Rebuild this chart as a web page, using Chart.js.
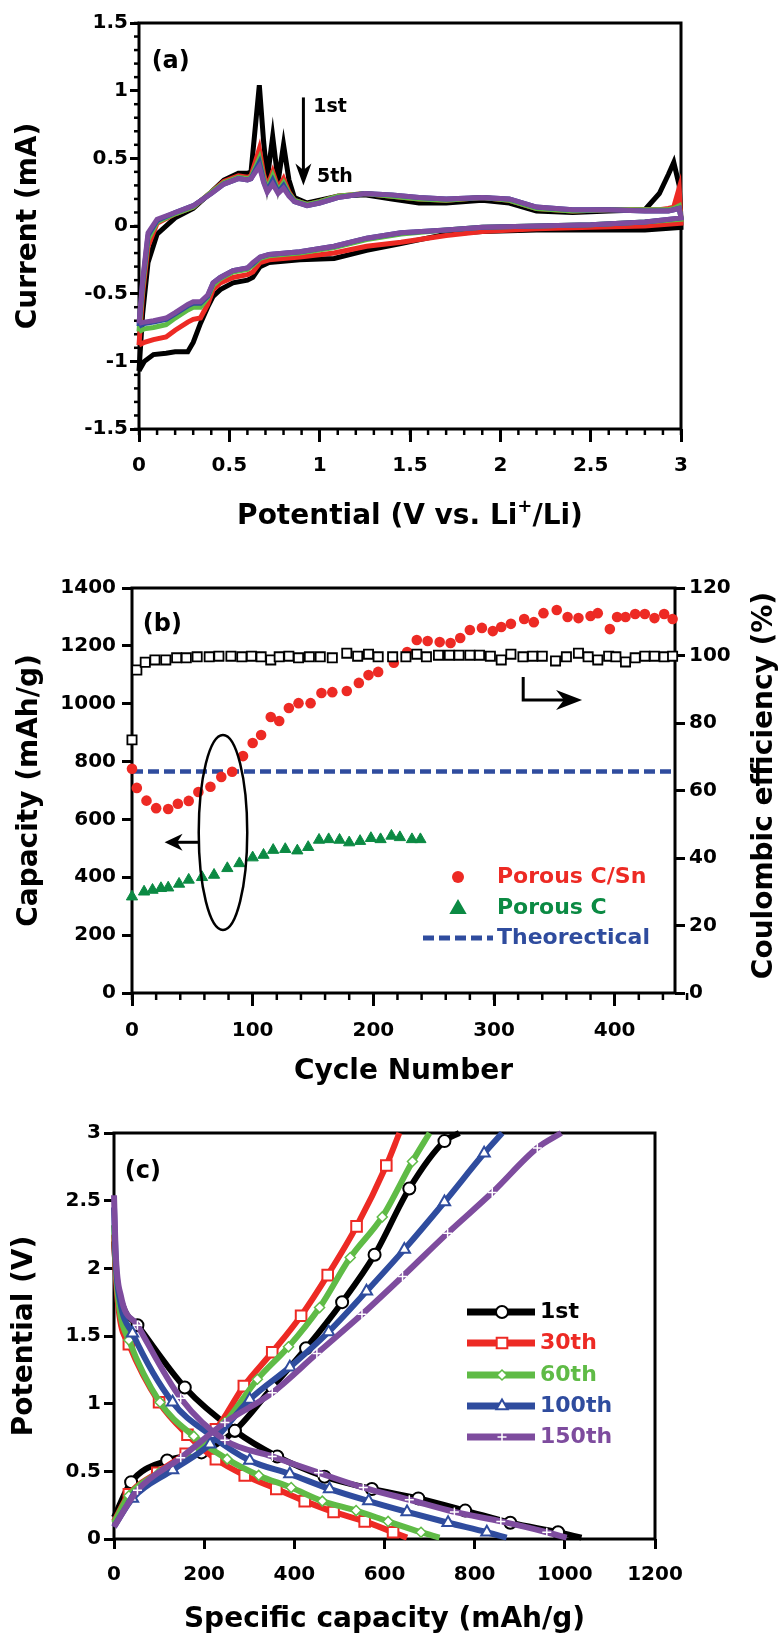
<!DOCTYPE html>
<html>
<head>
<meta charset="utf-8">
<script src="https://cdn.jsdelivr.net/npm/chart.js@4.4.1/dist/chart.umd.min.js"></script>
<style>
  html, body { margin: 0; padding: 0; background: #fff; }
  #wrap { position: relative; width: 780px; height: 1639px; }
  canvas { position: absolute; left: 0; }
</style>
</head>
<body>
<div id="wrap">
  <canvas id="graphCV" style="top:0px" width="780" height="545"></canvas>
  <canvas id="graphCycle" style="top:545px" width="780" height="545"></canvas>
  <canvas id="graphGCD" style="top:1090px" width="780" height="549"></canvas>
</div>
<script>
// ---------- (a) cyclic voltammetry, 1st..5th cycle ----------
// anodic branch (0 -> 3 V)
const cvUpV = [0, 0.02, 0.05, 0.1, 0.2, 0.3, 0.4, 0.47, 0.55, 0.6, 0.62, 0.666, 0.69, 0.71, 0.74, 0.77, 0.8, 0.83, 0.86, 0.93, 1.0, 1.1, 1.25, 1.4, 1.55, 1.7, 1.9, 2.05, 2.2, 2.4, 2.6, 2.8, 2.88, 2.93, 2.96, 2.99, 3.0];
const cvUp1 = [-1.07, -0.65, -0.27, -0.06, 0.06, 0.13, 0.25, 0.34, 0.39, 0.39, 0.40, 1.04, 0.62, 0.35, 0.66, 0.33, 0.60, 0.34, 0.21, 0.17, 0.19, 0.22, 0.23, 0.20, 0.17, 0.17, 0.19, 0.17, 0.11, 0.10, 0.11, 0.12, 0.24, 0.38, 0.47, 0.30, 0.05];
const cvUp2 = [-0.88, -0.50, -0.15, 0.02, 0.09, 0.14, 0.25, 0.33, 0.37, 0.36, 0.37, 0.57, 0.38, 0.29, 0.40, 0.28, 0.35, 0.25, 0.19, 0.16, 0.18, 0.22, 0.24, 0.22, 0.20, 0.19, 0.21, 0.19, 0.13, 0.11, 0.12, 0.12, 0.12, 0.13, 0.14, 0.28, 0.02];
const cvUp3 = [-0.78, -0.45, -0.10, 0.03, 0.09, 0.14, 0.25, 0.32, 0.36, 0.35, 0.36, 0.50, 0.35, 0.27, 0.37, 0.26, 0.32, 0.24, 0.19, 0.16, 0.18, 0.22, 0.24, 0.22, 0.20, 0.19, 0.21, 0.19, 0.13, 0.11, 0.12, 0.12, 0.12, 0.12, 0.13, 0.15, 0.05];
const cvUp4 = [-0.74, -0.42, -0.07, 0.04, 0.10, 0.15, 0.24, 0.31, 0.35, 0.34, 0.35, 0.47, 0.33, 0.26, 0.34, 0.25, 0.30, 0.23, 0.18, 0.15, 0.17, 0.21, 0.24, 0.23, 0.21, 0.20, 0.21, 0.20, 0.14, 0.12, 0.12, 0.11, 0.11, 0.11, 0.12, 0.13, 0.06];
const cvUp5 = [-0.72, -0.40, -0.05, 0.05, 0.10, 0.15, 0.24, 0.31, 0.35, 0.34, 0.35, 0.44, 0.32, 0.25, 0.31, 0.24, 0.28, 0.22, 0.18, 0.15, 0.17, 0.21, 0.24, 0.23, 0.21, 0.20, 0.21, 0.20, 0.14, 0.12, 0.12, 0.11, 0.11, 0.11, 0.12, 0.13, 0.06];
// cathodic branch (3 -> 0 V)
const cvLowV = [3.0, 2.8, 2.5, 2.2, 1.9, 1.7, 1.45, 1.26, 1.08, 0.89, 0.72, 0.67, 0.63, 0.6, 0.52, 0.45, 0.41, 0.38, 0.34, 0.3, 0.27, 0.2, 0.15, 0.08, 0.03, 0.0];
const cvLow1 = [-0.01, -0.03, -0.03, -0.03, -0.04, -0.06, -0.13, -0.18, -0.24, -0.25, -0.27, -0.30, -0.38, -0.40, -0.42, -0.47, -0.52, -0.60, -0.72, -0.86, -0.93, -0.93, -0.94, -0.95, -1.0, -1.07];
const cvLow2 = [0.02, 0.0, -0.01, -0.02, -0.04, -0.07, -0.12, -0.15, -0.20, -0.23, -0.25, -0.27, -0.34, -0.36, -0.38, -0.42, -0.47, -0.58, -0.68, -0.69, -0.71, -0.77, -0.82, -0.84, -0.86, -0.88];
const cvLow3 = [0.05, 0.03, 0.01, 0.0, -0.01, -0.03, -0.06, -0.10, -0.16, -0.20, -0.22, -0.24, -0.29, -0.32, -0.34, -0.39, -0.44, -0.53, -0.60, -0.60, -0.62, -0.68, -0.73, -0.75, -0.76, -0.78];
const cvLow4 = [0.06, 0.03, 0.01, 0.0, -0.01, -0.03, -0.05, -0.09, -0.15, -0.19, -0.21, -0.23, -0.28, -0.31, -0.33, -0.38, -0.42, -0.52, -0.57, -0.57, -0.59, -0.65, -0.69, -0.71, -0.72, -0.74];
const cvLow5 = [0.06, 0.03, 0.01, 0.0, -0.01, -0.03, -0.05, -0.09, -0.15, -0.19, -0.21, -0.23, -0.27, -0.31, -0.33, -0.38, -0.42, -0.51, -0.56, -0.56, -0.58, -0.64, -0.68, -0.70, -0.71, -0.72];

// ---------- (b) cycling ----------
const snCycles = [0, 4, 12, 20, 30, 38, 47, 55, 65, 74, 83, 92, 100, 107, 115, 122, 130, 138, 148, 157, 166, 178, 188, 196, 204, 217, 228, 236, 245, 255, 264, 272, 280, 290, 299, 306, 314, 325, 333, 341, 352, 361, 370, 380, 386, 396, 402, 409, 417, 425, 433, 441, 448];
const snCapacity = [775, 709, 665, 639, 636, 654, 664, 695, 713, 747, 765, 819, 864, 892, 954, 940, 985, 1002, 1002, 1037, 1040, 1044, 1072, 1099, 1110, 1142, 1179, 1220, 1217, 1213, 1210, 1227, 1255, 1262, 1251, 1265, 1276, 1293, 1282, 1313, 1324, 1300, 1296, 1303, 1313, 1258, 1300, 1300, 1310, 1310, 1296, 1310, 1293];
const cCycles = [0, 10, 17, 24, 30, 39, 47, 58, 68, 79, 89, 100, 109, 117, 127, 137, 146, 155, 163, 172, 180, 189, 198, 206, 215, 222, 232, 239];
const cCapacity = [333, 350, 356, 362, 364, 377, 391, 400, 408, 431, 448, 468, 477, 494, 497, 492, 504, 529, 531, 529, 520, 525, 535, 531, 543, 538, 531, 531];
const ceCycles = [0, 4, 11, 19, 28, 37, 45, 54, 64, 72, 82, 91, 99, 107, 115, 122, 130, 138, 147, 156, 166, 178, 187, 196, 204, 216, 227, 236, 244, 254, 263, 271, 280, 288, 297, 306, 314, 324, 332, 340, 351, 360, 370, 378, 386, 395, 401, 409, 417, 425, 433, 441, 448];
const ceValues = [75, 95.7, 98, 98.7, 98.7, 99.3, 99.3, 99.6, 99.6, 99.8, 99.8, 99.6, 99.8, 99.6, 98.7, 99.6, 99.8, 99.3, 99.6, 99.6, 99.3, 100.7, 99.8, 100.4, 99.6, 99.6, 99.6, 100.4, 99.6, 100.1, 100.1, 100.1, 100.1, 100.1, 99.8, 98.7, 100.4, 99.6, 99.8, 99.8, 98.4, 99.6, 100.7, 99.6, 98.7, 99.8, 99.6, 98.1, 99.3, 99.8, 99.8, 99.6, 99.8];
const theoCycles = [0, 450];
const theoCapacity = [766, 766];

// ---------- (c) charge / discharge profiles ----------
const d1Cap = [0, 5, 20, 52, 157, 268, 362, 467, 572, 675, 779, 879, 985, 1037];
const d1V = [2.2, 1.95, 1.72, 1.58, 1.12, 0.80, 0.61, 0.46, 0.37, 0.30, 0.21, 0.12, 0.05, 0.01];
const c1Cap = [0, 38, 118, 194, 268, 351, 426, 506, 578, 655, 733, 766];
const c1V = [0.16, 0.42, 0.58, 0.64, 0.80, 1.12, 1.41, 1.75, 2.10, 2.59, 2.94, 3.0];
const d30Cap = [0, 4, 12, 33, 100, 163, 226, 290, 360, 423, 487, 556, 619, 650];
const d30V = [2.25, 1.95, 1.65, 1.44, 1.01, 0.77, 0.59, 0.47, 0.37, 0.28, 0.20, 0.13, 0.05, 0.01];
const c30Cap = [0, 33, 96, 159, 226, 288, 351, 415, 474, 538, 604, 633];
const c30V = [0.13, 0.33, 0.49, 0.63, 0.81, 1.13, 1.38, 1.65, 1.95, 2.31, 2.76, 3.0];
const d60Cap = [0, 4, 12, 33, 102, 177, 251, 321, 393, 462, 537, 608, 681, 722];
const d60V = [2.32, 2.0, 1.7, 1.47, 1.01, 0.76, 0.59, 0.47, 0.38, 0.28, 0.21, 0.13, 0.05, 0.01];
const c60Cap = [0, 33, 100, 177, 246, 318, 387, 456, 524, 595, 662, 700];
const c60V = [0.12, 0.32, 0.49, 0.64, 0.86, 1.18, 1.42, 1.71, 2.08, 2.38, 2.79, 3.0];
const d100Cap = [0, 4, 14, 41, 130, 213, 301, 390, 478, 565, 650, 741, 827, 871];
const d100V = [2.45, 2.05, 1.75, 1.52, 1.01, 0.77, 0.58, 0.48, 0.37, 0.28, 0.20, 0.12, 0.05, 0.01];
const c100Cap = [0, 41, 130, 213, 301, 390, 476, 560, 644, 733, 821, 861];
const c100V = [0.09, 0.30, 0.51, 0.70, 1.03, 1.27, 1.53, 1.83, 2.14, 2.49, 2.85, 3.0];
const d150Cap = [0, 4, 15, 52, 148, 246, 351, 454, 553, 655, 755, 858, 960, 1004];
const d150V = [2.54, 2.1, 1.8, 1.58, 1.04, 0.73, 0.61, 0.49, 0.38, 0.29, 0.20, 0.13, 0.05, 0.01];
const c150Cap = [0, 52, 148, 246, 351, 450, 550, 640, 740, 839, 939, 992];
const c150V = [0.09, 0.36, 0.60, 0.86, 1.08, 1.37, 1.66, 1.94, 2.26, 2.56, 2.89, 3.0];

// ---------- style ----------
const FONT = '"DejaVu Sans", "Liberation Sans", Arial, sans-serif';
const RED = '#ED2A24', GREEN = '#5FBB46', DKGREEN = '#0B8A43', BLUE = '#2F4C9E', PURPLE = '#7E4C9E';
Chart.defaults.font.family = FONT;
Chart.defaults.font.weight = 'bold';
Chart.defaults.color = '#000';

const pts = (xs, ys) => xs.map((v, i) => ({ x: v, y: ys[i] }));
const cvLoop = (up, low) => pts(cvUpV, up).concat(pts(cvLowV, low));

function linScale(o) {
  return {
    type: 'linear',
    position: o.position,
    min: o.min,
    max: o.max,
    afterFit: s => {
      if (o.width != null) s.width = o.width;
      if (o.height != null) s.height = o.height;
    },
    afterBuildTicks: s => { if (o.keep) s.ticks = s.ticks.filter(t => o.keep(t.value)); },
    ticks: {
      stepSize: o.step, padding: o.pad, color: '#000', font: { size: 20, weight: 'bold' },
      maxRotation: 0, autoSkip: false,
      callback: v => String(Math.round(v * 100) / 100)
    },
    grid: { drawOnChartArea: false, drawTicks: true, tickLength: o.tick, tickWidth: 3, tickColor: '#000', lineWidth: 3 },
    border: { display: false },
    title: o.title
      ? { display: true, text: o.title, color: '#000', font: { size: 28, weight: 'bold' }, padding: o.titlePad }
      : { display: false }
  };
}

// frame round the plot area + minor tick marks
const framePlugin = {
  id: 'frame',
  beforeDatasetsDraw(chart, args, opts) {
    const { ctx, chartArea: a } = chart;
    ctx.save();
    ctx.strokeStyle = '#000';
    ctx.lineWidth = 3;
    ctx.strokeRect(a.left, a.top, a.right - a.left, a.bottom - a.top);
    ctx.lineWidth = 2.5;
    (opts.minor || []).forEach(m => {
      const s = chart.scales[m.axis];
      const n = Math.round((s.max - s.min) / m.step);
      for (let i = 0; i <= n; i++) {
        const p = s.getPixelForValue(s.min + i * m.step);
        ctx.beginPath();
        if (s.isHorizontal()) { ctx.moveTo(p, a.bottom); ctx.lineTo(p, a.bottom + m.len); }
        else { ctx.moveTo(a.left, p); ctx.lineTo(a.left - m.len, p); }
        ctx.stroke();
      }
    });
    ctx.restore();
  }
};

function arrowHead(ctx, x, y, ang, len, half) {
  ctx.save();
  ctx.translate(x, y);
  ctx.rotate(ang);
  ctx.beginPath();
  ctx.moveTo(0, 0);
  ctx.lineTo(-len, -half);
  ctx.lineTo(-len * 0.7, 0);
  ctx.lineTo(-len, half);
  ctx.closePath();
  ctx.fill();
  ctx.restore();
}

// ---------- (a) ----------
const notesCV = {
  id: 'notesCV',
  afterDatasetsDraw(chart) {
    const { ctx, chartArea: a, scales: { x, y } } = chart;
    ctx.save();
    ctx.fillStyle = '#000';
    ctx.strokeStyle = '#000';
    ctx.textAlign = 'left';
    ctx.textBaseline = 'middle';
    ctx.font = 'bold 24px ' + FONT;
    ctx.fillText('(a)', x.getPixelForValue(0.07), y.getPixelForValue(1.21));
    const ax = x.getPixelForValue(0.91);
    const top = y.getPixelForValue(0.95), tip = y.getPixelForValue(0.30);
    ctx.lineWidth = 3;
    ctx.beginPath();
    ctx.moveTo(ax, top);
    ctx.lineTo(ax, tip - 10);
    ctx.stroke();
    arrowHead(ctx, ax, tip, Math.PI / 2, 22, 8);
    ctx.font = 'bold 19px ' + FONT;
    ctx.fillText('1st', x.getPixelForValue(0.965), y.getPixelForValue(0.88));
    ctx.fillText('5th', x.getPixelForValue(0.985), y.getPixelForValue(0.36));

    // x title with superscript +
    const p1 = 'Potential (V vs. Li', p2 = '+', p3 = '/Li)';
    ctx.font = 'bold 28px ' + FONT;
    const w1 = ctx.measureText(p1).width, w3 = ctx.measureText(p3).width;
    ctx.font = 'bold 18px ' + FONT;
    const w2 = ctx.measureText(p2).width;
    let sx = (a.left + a.right) / 2 - (w1 + w2 + w3) / 2;
    const base = 524;
    ctx.textBaseline = 'alphabetic';
    ctx.font = 'bold 28px ' + FONT;
    ctx.fillText(p1, sx, base);
    ctx.font = 'bold 18px ' + FONT;
    ctx.fillText(p2, sx + w1, base - 12);
    ctx.font = 'bold 28px ' + FONT;
    ctx.fillText(p3, sx + w1 + w2, base);
    ctx.restore();
  }
};

const cvStyle = (label, color, order, up, low) => ({
  label, data: cvLoop(up, low), borderColor: color, backgroundColor: color,
  showLine: true, borderWidth: 5, pointRadius: 0, tension: 0, clip: false, order
});

new Chart(document.getElementById('graphCV'), {
  type: 'scatter',
  data: {
    datasets: [
      cvStyle('1st', '#000', 5, cvUp1, cvLow1),
      cvStyle('2nd', RED, 4, cvUp2, cvLow2),
      cvStyle('3rd', GREEN, 3, cvUp3, cvLow3),
      cvStyle('4th', BLUE, 2, cvUp4, cvLow4),
      cvStyle('5th', PURPLE, 1, cvUp5, cvLow5)
    ]
  },
  options: {
    responsive: false,
    animation: false,
    layout: { padding: { left: 0, right: 99, top: 23, bottom: 0 } },
    plugins: {
      legend: { display: false },
      tooltip: { enabled: false },
      frame: { minor: [{ axis: 'x', step: 0.1, len: 6 }, { axis: 'y', step: 0.1, len: 5 }] }
    },
    scales: {
      x: linScale({ position: 'bottom', min: 0, max: 3, step: 0.5, pad: 12, tick: 13, height: 116 }),
      y: linScale({ position: 'left', min: -1.5, max: 1.5, step: 0.5, pad: 2, tick: 9, width: 139,
        title: 'Current (mA)', titlePad: { top: 12, bottom: 0 } })
    }
  },
  plugins: [framePlugin, notesCV]
});

// ---------- (b) ----------
const notesCycle = {
  id: 'notesCycle',
  afterDatasetsDraw(chart) {
    const { ctx, chartArea: a, scales: { x, y } } = chart;
    ctx.save();
    ctx.fillStyle = '#000';
    ctx.strokeStyle = '#000';
    ctx.textAlign = 'left';
    ctx.textBaseline = 'middle';
    ctx.font = 'bold 24px ' + FONT;
    ctx.fillText('(b)', x.getPixelForValue(9), y.getPixelForValue(1272));

    // ellipse round the early cycles
    const ex0 = x.getPixelForValue(55.3), ex1 = x.getPixelForValue(95.5);
    const ey0 = y.getPixelForValue(892), ey1 = y.getPixelForValue(218);
    ctx.lineWidth = 2.5;
    ctx.beginPath();
    ctx.ellipse((ex0 + ex1) / 2, (ey0 + ey1) / 2, (ex1 - ex0) / 2, (ey1 - ey0) / 2, 0, 0, Math.PI * 2);
    ctx.stroke();

    // left arrow -> capacity axis
    const ly = y.getPixelForValue(521);
    const lx0 = x.getPixelForValue(56), lx1 = x.getPixelForValue(27);
    ctx.lineWidth = 3;
    ctx.beginPath();
    ctx.moveTo(lx0, ly);
    ctx.lineTo(lx1 + 10, ly);
    ctx.stroke();
    arrowHead(ctx, lx1, ly, Math.PI, 18, 8.5);

    // L arrow -> efficiency axis
    const rx = x.getPixelForValue(324.2);
    const ry0 = y.getPixelForValue(1092), ry1 = y.getPixelForValue(1013);
    const rtip = x.getPixelForValue(373);
    ctx.beginPath();
    ctx.moveTo(rx, ry0);
    ctx.lineTo(rx, ry1);
    ctx.lineTo(rtip - 12, ry1);
    ctx.stroke();
    arrowHead(ctx, rtip, ry1, 0, 26, 10);

    // right axis title, reading upwards
    ctx.save();
    ctx.translate(765, (a.top + a.bottom) / 2 - 5);
    ctx.rotate(-Math.PI / 2);
    ctx.textAlign = 'center';
    ctx.font = 'bold 28px ' + FONT;
    ctx.fillText('Coulombic efficiency (%)', 0, 0);
    ctx.restore();

    // legend
    const H = Chart.helpers;
    ctx.fillStyle = RED;
    H.drawPoint(ctx, { pointStyle: 'circle', radius: 6, borderWidth: 0, rotation: 0 }, 458, 332);
    ctx.font = 'bold 22px ' + FONT;
    ctx.fillText('Porous C/Sn', 497, 332);
    ctx.fillStyle = DKGREEN;
    ctx.strokeStyle = DKGREEN;
    H.drawPoint(ctx, { pointStyle: 'triangle', radius: 7, borderWidth: 1, rotation: 0 }, 458, 364);
    ctx.fillText('Porous C', 497, 363);
    ctx.strokeStyle = BLUE;
    ctx.lineWidth = 5;
    ctx.setLineDash([11, 5]);
    ctx.beginPath();
    ctx.moveTo(423, 393);
    ctx.lineTo(493, 393);
    ctx.stroke();
    ctx.setLineDash([]);
    ctx.fillStyle = BLUE;
    ctx.fillText('Theorectical', 497, 393);
    ctx.restore();
  }
};

new Chart(document.getElementById('graphCycle'), {
  type: 'scatter',
  data: {
    datasets: [
      { label: 'Coulombic efficiency', data: pts(ceCycles, ceValues), yAxisID: 'y2', pointStyle: 'rect',
        pointRadius: 6.5, pointBorderWidth: 1.8, pointBorderColor: '#000', pointBackgroundColor: '#fff', clip: false, order: 1 },
      { label: 'Porous C/Sn', data: pts(snCycles, snCapacity), yAxisID: 'y', pointStyle: 'circle',
        pointRadius: 5.3, pointBorderWidth: 0, pointBackgroundColor: RED, clip: false, order: 2 },
      { label: 'Porous C', data: pts(cCycles, cCapacity), yAxisID: 'y', pointStyle: 'triangle',
        pointRadius: 6.5, pointBorderWidth: 1, pointBorderColor: DKGREEN, pointBackgroundColor: DKGREEN, clip: false, order: 3 },
      { label: 'Theorectical', data: pts(theoCycles, theoCapacity), yAxisID: 'y', showLine: true, pointRadius: 0,
        borderColor: BLUE, borderWidth: 4.5, borderDash: [11, 5], clip: false, order: 4 }
    ]
  },
  options: {
    responsive: false,
    animation: false,
    layout: { padding: { left: 0, right: 0, top: 43, bottom: 0 } },
    plugins: {
      legend: { display: false },
      tooltip: { enabled: false },
      frame: { minor: [{ axis: 'x', step: 20, len: 7 }] }
    },
    scales: {
      x: linScale({ position: 'bottom', min: 0, max: 450, step: 100, pad: 13, tick: 13, height: 97,
        keep: v => v % 100 === 0, title: 'Cycle Number', titlePad: { top: 0, bottom: 1 } }),
      y: linScale({ position: 'left', min: 0, max: 1400, step: 200, pad: 6, tick: 10, width: 132,
        title: 'Capacity (mAh/g)', titlePad: { top: 13, bottom: 0 } }),
      y2: linScale({ position: 'right', min: 0, max: 120, step: 20, pad: 4, tick: 10, width: 105 })
    }
  },
  plugins: [framePlugin, notesCycle]
});

// ---------- (c) ----------
const gcdStyles = [
  { label: '1st', color: '#000', pointStyle: 'circle', r: 6, bw: 2, order: 5 },
  { label: '30th', color: RED, pointStyle: 'rect', r: 7.5, bw: 2, order: 4 },
  { label: '60th', color: GREEN, pointStyle: 'rectRot', r: 5, bw: 1.5, order: 3 },
  { label: '100th', color: BLUE, pointStyle: 'triangle', r: 6.5, bw: 2, order: 2 },
  { label: '150th', color: PURPLE, pointStyle: 'cross', r: 4.5, bw: 1.5, order: 1 }
];
const gcdCurves = [
  [d1Cap, d1V, c1Cap, c1V],
  [d30Cap, d30V, c30Cap, c30V],
  [d60Cap, d60V, c60Cap, c60V],
  [d100Cap, d100V, c100Cap, c100V],
  [d150Cap, d150V, c150Cap, c150V]
];

function markerColors(st) {
  if (st.pointStyle === 'cross') return { bg: '#fff', border: '#fff' };
  return { bg: '#fff', border: st.color };
}

function gcdSet(st, xs, ys, skip) {
  const mc = markerColors(st);
  return {
    label: st.label, data: pts(xs, ys), showLine: true, borderColor: st.color, borderWidth: 6,
    cubicInterpolationMode: 'monotone', clip: false, order: st.order,
    pointStyle: st.pointStyle, pointBackgroundColor: mc.bg, pointBorderColor: mc.border, pointBorderWidth: st.bw,
    pointRadius: c => (c.dataIndex < skip || c.dataIndex === c.dataset.data.length - 1) ? 0 : st.r
  };
}

const gcdDatasets = [];
gcdStyles.forEach((st, i) => {
  const [dc, dv, cc, cv] = gcdCurves[i];
  gcdDatasets.push(gcdSet(st, dc, dv, 3));
  gcdDatasets.push(gcdSet(st, cc, cv, 1));
});

const notesGCD = {
  id: 'notesGCD',
  afterDatasetsDraw(chart) {
    const { ctx, scales: { x, y } } = chart;
    ctx.save();
    ctx.fillStyle = '#000';
    ctx.textAlign = 'left';
    ctx.textBaseline = 'middle';
    ctx.font = 'bold 24px ' + FONT;
    ctx.fillText('(c)', x.getPixelForValue(24), y.getPixelForValue(2.71));
    const rows = [222, 253, 285, 316, 347];
    gcdStyles.forEach((st, i) => {
      const ry = rows[i];
      ctx.strokeStyle = st.color;
      ctx.lineWidth = 7;
      ctx.beginPath();
      ctx.moveTo(467, ry);
      ctx.lineTo(535, ry);
      ctx.stroke();
      const mc = markerColors(st);
      ctx.fillStyle = mc.bg;
      ctx.strokeStyle = mc.border;
      ctx.lineWidth = st.bw;
      Chart.helpers.drawPoint(ctx, { pointStyle: st.pointStyle, radius: st.r, borderWidth: st.bw, rotation: 0 }, 502, ry);
      ctx.fillStyle = st.color;
      ctx.font = 'bold 22px ' + FONT;
      ctx.fillText(st.label, 540, ry);
    });
    ctx.restore();
  }
};

new Chart(document.getElementById('graphGCD'), {
  type: 'scatter',
  data: { datasets: gcdDatasets },
  options: {
    responsive: false,
    animation: false,
    layout: { padding: { left: 0, right: 125, top: 43, bottom: 0 } },
    plugins: { legend: { display: false }, tooltip: { enabled: false }, frame: {} },
    scales: {
      x: linScale({ position: 'bottom', min: 0, max: 1200, step: 200, pad: 14, tick: 10, height: 100,
        title: 'Specific capacity (mAh/g)', titlePad: { top: 0, bottom: 2 } }),
      y: linScale({ position: 'left', min: 0, max: 3, step: 0.5, pad: 3, tick: 10, width: 114,
        title: 'Potential (V)', titlePad: { top: 8, bottom: 0 } })
    }
  },
  plugins: [framePlugin, notesGCD]
});
</script>
</body>
</html>
